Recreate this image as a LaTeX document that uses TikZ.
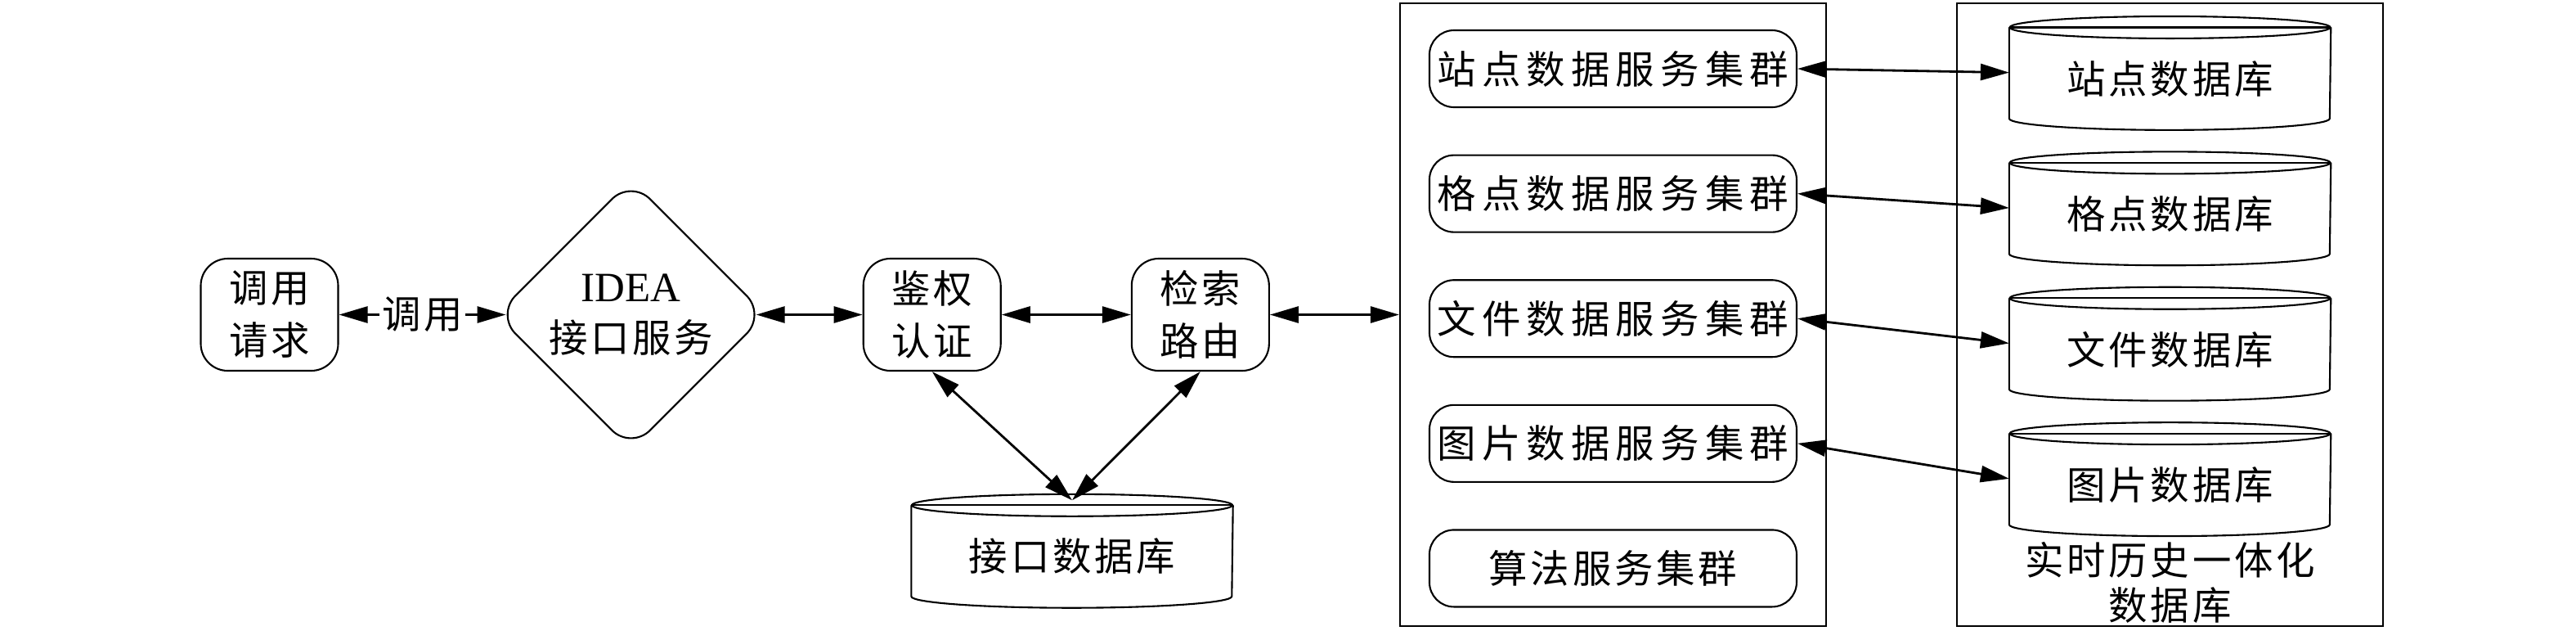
\documentclass[tikz,border=0pt]{standalone}
\usepackage{fontspec}
\usepackage{tikz}
\usetikzlibrary{shapes.geometric, arrows.meta, positioning}
\newfontfamily\cjk[LetterSpace=8]{Noto Sans CJK SC}
\newfontfamily\cjkwide[LetterSpace=15]{Noto Sans CJK SC}
\newfontfamily\latinf{Liberation Serif}

\begin{document}
\begin{tikzpicture}[
            node distance=1.58cm,
            box/.style={rectangle, draw, line width=0.6pt, rounded corners=0.33cm, minimum width=1.68cm, minimum height=1.37cm, inner sep=0pt, align=center, font={\cjk\fontsize{13.5pt}{18.2pt}\selectfont}},
            svcbox/.style={rectangle, draw, line width=0.6pt, rounded corners=0.3cm, minimum width=4.49cm, minimum height=0.94cm, inner sep=0pt, font={\cjk\fontsize{13.5pt}{18pt}\selectfont}},
            decision/.style={diamond, draw, line width=0.6pt, rounded corners=0.33cm, aspect=1, minimum width=3.3cm, minimum height=3.3cm, inner sep=0pt, align=center, font={\cjk\fontsize{13.5pt}{17.6pt}\selectfont}},
            groupbox/.style={rectangle, draw, line width=0.6pt, minimum width=5.21cm, minimum height=7.61cm},
            dbase/.style={rectangle, inner sep=0pt, minimum width=#1, minimum height=1.24cm, font={\cjk\fontsize{13.5pt}{18pt}\selectfont},
                append after command={\pgfextra{
                    \draw[line width=0.6pt] (\tikzlastnode.north west) -- ([yshift=0.14cm]\tikzlastnode.south west)
                        arc[start angle=180, end angle=360, x radius=#1/2, y radius=0.14cm] -- (\tikzlastnode.north east);
                    \draw[line width=0.6pt] (\tikzlastnode.north) ellipse [x radius=#1/2, y radius=0.135cm];
                    \draw[line width=0.6pt] (\tikzlastnode.north west) -- (\tikzlastnode.north east);}}},
            dbase/.default=3.92cm,
            biarrow/.style={{Triangle[length=0.35cm, width=0.2cm]}-{Triangle[length=0.35cm, width=0.2cm]}, line width=0.8pt}
        ]
            \useasboundingbox (0,0) rectangle (31.5,-7.7);

            % request and gateway
            \node[box] (req) at (3.295,-3.845) {调用\\请求};
            \node[decision, right=1.91cm of req] (idea) {{\latinf\fontsize{14.5pt}{17.6pt}\selectfont IDEA}\\接口服务};
            \node[box, right=1.17cm of idea] (auth) {鉴权\\认证};
            \node[box, right=of auth] (route) {检索\\路由};
            \node[dbase] (dbi) at (13.11,-6.80) {接口数据库};

            % service clusters
            \node[groupbox, right=of route] (svcframe) {};
            \node[svcbox, below=0.33cm of svcframe.north] (svc1) {\cjkwide 站点数据服务集群};
            \node[svcbox, below=0.565cm of svc1] (svc2) {\cjkwide 格点数据服务集群};
            \node[svcbox, below=0.565cm of svc2] (svc3) {\cjkwide 文件数据服务集群};
            \node[svcbox, below=0.565cm of svc3] (svc4) {\cjkwide 图片数据服务集群};
            \node[svcbox, below=0.565cm of svc4] (svc5) {算法服务集群};

            % databases
            \node[groupbox, right=of svcframe] (dbframe) {};
            \node[dbase, below=0.305cm of dbframe.north] (db1) {站点数据库};
            \node[dbase, below=0.40cm of db1] (db2) {格点数据库};
            \node[dbase, below=0.40cm of db2] (db3) {文件数据库};
            \node[dbase, below=0.40cm of db3] (db4) {图片数据库};
            \node[below=0.07cm of db4, inner sep=0pt, align=center, font={\cjk\fontsize{13.5pt}{15.4pt}\selectfont}] (dblabel) {实时历史一体化\\数据库};

            \draw[biarrow] (req.east) -- node[fill=white, inner sep=1pt, font={\cjk\fontsize{13.5pt}{18pt}\selectfont}] {调用} ([xshift=0.13cm]idea.west);
            \draw[biarrow] ([xshift=-0.13cm]idea.east) -- (auth.west);
            \draw[biarrow] (auth) -- (route);
            \draw[biarrow] (route) -- (svcframe);
            \draw[biarrow] (auth.south) -- ([yshift=0.06cm]dbi.north);
            \draw[biarrow] (route.south) -- ([yshift=0.06cm]dbi.north);

            \draw[biarrow] (svc1.east) -- ([yshift=0.075cm]db1.west);
            \draw[biarrow] (svc2.east) -- ([yshift=0.075cm]db2.west);
            \draw[biarrow] (svc3.east) -- ([yshift=0.075cm]db3.west);
            \draw[biarrow] (svc4.east) -- ([yshift=0.075cm]db4.west);
        \end{tikzpicture}
\end{document}
